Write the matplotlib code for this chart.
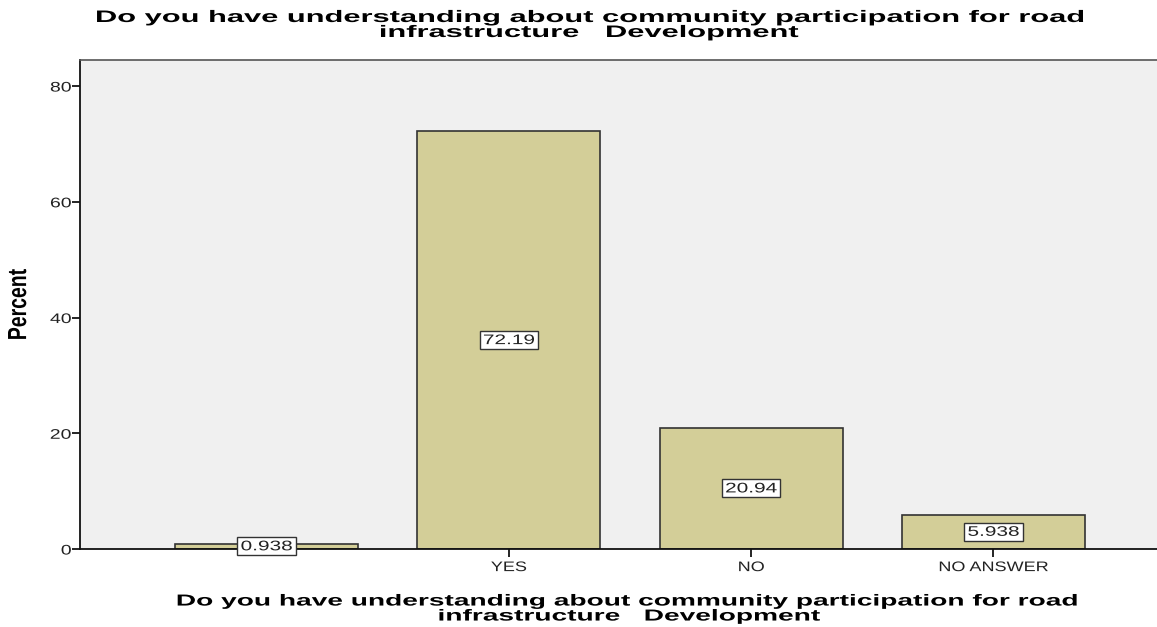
import numpy as np
import matplotlib.pyplot as plt
from matplotlib.patheffects import AbstractPathEffect
from matplotlib.transforms import Affine2D

categories = ['', 'YES', 'NO', 'NO ANSWER']
percent = [0.938, 72.19, 20.94, 5.938]
value_labels = ['0.938', '72.19', '20.94', '5.938']

question = ('Do you have understanding about community participation for road\n'
            'infrastructure   Development')

plt.rcParams['font.family'] = ['Liberation Sans', 'DejaVu Sans']


class Widen(AbstractPathEffect):
    """Stretch a text (and its box) horizontally around its centre or right edge."""

    def __init__(self, text, factor, anchor='center'):
        super().__init__()
        self.text = text
        self.factor = factor
        self.anchor = anchor

    def draw_path(self, renderer, gc, tpath, affine, rgbFace=None):
        bb = self.text.get_window_extent(renderer)
        cx = bb.x1 if self.anchor == 'right' else (bb.x0 + bb.x1) / 2
        stretch = Affine2D().translate(-cx, 0).scale(self.factor, 1).translate(cx, 0)
        renderer.draw_path(gc, tpath, affine + stretch, rgbFace)


def widen(text, factor, anchor='center'):
    text.set_path_effects([Widen(text, factor, anchor)])
    if text.get_bbox_patch() is not None:
        text.get_bbox_patch().set_path_effects([Widen(text, factor, anchor)])


fig = plt.figure(figsize=(11.57, 6.27), dpi=100)
ax = fig.add_axes([80 / 1157, 78 / 627, 1100 / 1157, 489 / 627])
ax.set_facecolor('#f0f0f0')

x = np.arange(len(categories))
ax.bar(x, percent, width=0.756, color='#d3ce98', edgecolor='#333333', linewidth=1.2, zorder=2)

for xi, val, txt in zip(x, percent, value_labels):
    t = ax.text(xi, val / 2, txt, ha='center', va='center', fontsize=10, color='#222222', zorder=3,
                bbox=dict(boxstyle='square,pad=0.15', facecolor='white', edgecolor='#333333', linewidth=1))
    widen(t, 1.5)

ax.set_xlim(-0.77, 3.77)
ax.set_ylim(0, 84.5)
ax.set_yticks([0, 20, 40, 60, 80])
ax.set_xticks(x)
ax.set_xticklabels(categories, fontsize=10, color='#222222')
ax.tick_params(axis='y', labelsize=10, labelcolor='#222222', length=6, width=1.2, pad=0, direction='out')
ax.tick_params(axis='x', length=6, width=1.2, pad=2, direction='out')
ax.xaxis.get_major_ticks()[0].tick1line.set_visible(False)

for lbl in ax.get_xticklabels():
    widen(lbl, 1.3)
for lbl in ax.get_yticklabels():
    widen(lbl, 1.4, anchor='right')

for side in ['left', 'bottom']:
    ax.spines[side].set_linewidth(1.3)
    ax.spines[side].set_color('#111111')
ax.spines['top'].set_linewidth(1.2)
ax.spines['top'].set_color('#555555')
ax.spines['right'].set_visible(False)

ax.set_ylabel('Percent', fontsize=14, fontweight='bold', va='center')
ax.yaxis.set_label_coords(-60 / 1100, 0.5)
widen(ax.yaxis.label, 1.35)

ax.set_xlabel(question, fontsize=11.5, fontweight='bold', linespacing=1.0, labelpad=14)
widen(ax.xaxis.label, 1.76)

title = fig.text(ax.get_position().x0 + 508 / 1157, 1 - 10 / 627, question, ha='center', va='top',
                 fontsize=12, fontweight='bold', linespacing=1.0)
widen(title, 1.85)

fig.savefig('out.png', dpi=100)
